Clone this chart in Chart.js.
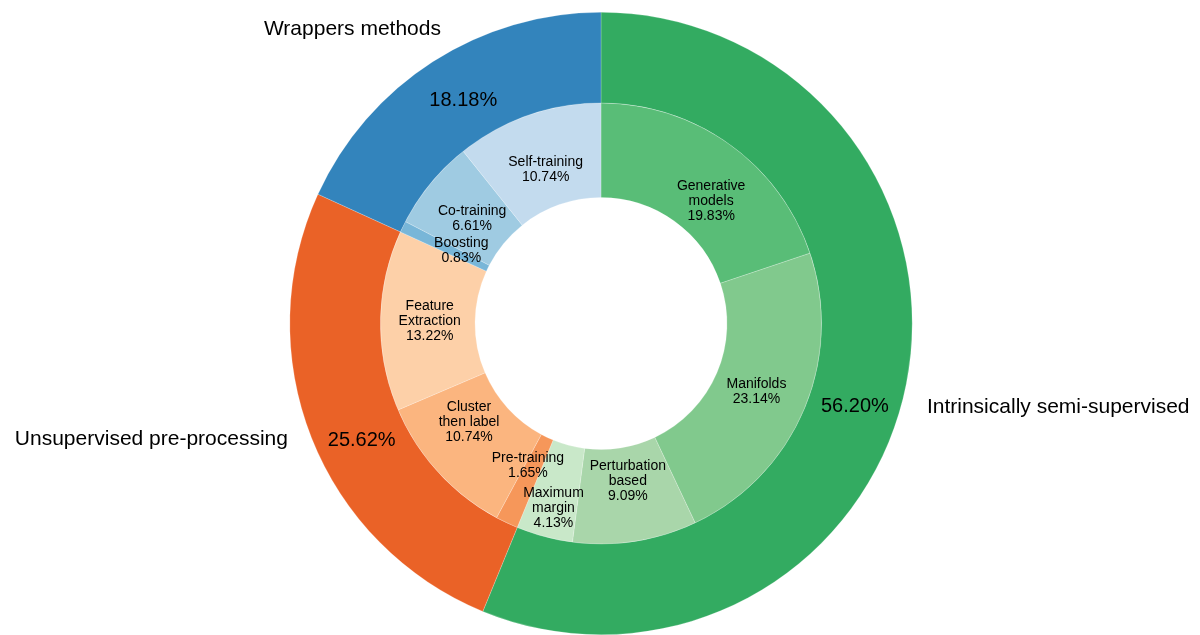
<!DOCTYPE html>
<html>
<head>
<meta charset="utf-8">
<script src="https://cdn.jsdelivr.net/npm/chart.js@4.4.1/dist/chart.umd.min.js"></script>
<style>
	html, body { margin: 0; padding: 0; background: #ffffff; }
	#wrap { width: 1200px; height: 635px; }
</style>
</head>
<body>
<div id="wrap"><canvas id="sunburst"></canvas></div>
<script>
// outer ring: method families
const groupLabels = ["Intrinsically semi-supervised", "Unsupervised pre-processing", "Wrappers methods"];
const groupValues = [56.20, 25.62, 18.18];
const groupColors = ["#33ab61", "#ea6227", "#3384bc"];

// inner ring: individual methods
const subLabels = [
	["Generative", "models"],
	["Manifolds"],
	["Perturbation", "based"],
	["Maximum", "margin"],
	["Pre-training"],
	["Cluster", "then label"],
	["Feature", "Extraction"],
	["Boosting"],
	["Co-training"],
	["Self-training"]
];
const subValues = [19.83, 23.14, 9.09, 4.13, 1.65, 10.74, 13.22, 0.83, 6.61, 10.74];
const subColors = [
	"#59bd77", "#81c98d", "#a9d6aa", "#c9e8c9",
	"#f6975a", "#fbb57f", "#fdd0a8",
	"#78b6d8", "#9fcbe2", "#c3dbee"
];

// small hand nudges so labels sit where the original put them
const groupPctNudge = [[-7, 32], [8, 19], [6, 1]];
const groupNameNudge = [[1, 20], [-5, -6], [19, -16]];
const subNudge = [[9, 18], [-4, 0], [0, -14], [-3, 17], [1, -15], [-4, -18], [2, 0], [16, 3], [5, 5], [2, 10]];

const sliceLabels = {
	id: "sliceLabels",
	afterDatasetsDraw(chart) {
		const ctx = chart.ctx;
		ctx.save();
		ctx.fillStyle = "#000000";
		ctx.textAlign = "center";
		ctx.textBaseline = "middle";

		// outer ring
		chart.getDatasetMeta(0).data.forEach(function (arc, i) {
			const p = arc.getCenterPoint();
			ctx.font = "20px 'Liberation Sans', Arial, sans-serif";
			ctx.textAlign = "center";
			ctx.fillText(groupValues[i].toFixed(2) + "%", p.x + groupPctNudge[i][0], p.y + groupPctNudge[i][1]);

			const mid = (arc.startAngle + arc.endAngle) / 2;
			const r = arc.outerRadius + 20;
			const nx = arc.x + Math.cos(mid) * r + groupNameNudge[i][0];
			const ny = arc.y + Math.sin(mid) * r + groupNameNudge[i][1];
			ctx.font = "21px 'Liberation Sans', Arial, sans-serif";
			ctx.textAlign = Math.cos(mid) >= 0 ? "left" : "right";
			ctx.fillText(groupLabels[i], nx, ny);
		});

		// inner ring
		ctx.font = "14px 'Liberation Sans', Arial, sans-serif";
		ctx.textAlign = "center";
		chart.getDatasetMeta(1).data.forEach(function (arc, i) {
			const p = arc.getCenterPoint();
			const lines = subLabels[i].concat([subValues[i].toFixed(2) + "%"]);
			const lh = 15;
			const top = p.y + subNudge[i][1] - (lines.length - 1) * lh / 2;
			lines.forEach(function (t, k) {
				ctx.fillText(t, p.x + subNudge[i][0], top + k * lh);
			});
		});
		ctx.restore();
	}
};

const ctx = document.getElementById("sunburst").getContext("2d");

new Chart(ctx, {
	type: "doughnut",
	data: {
		labels: subLabels.map(function (l) { return l.join(" "); }),
		datasets: [
			{
				label: "Family",
				data: groupValues,
				backgroundColor: groupColors,
				borderColor: "rgba(255, 255, 255, 0.35)",
				borderWidth: 0.6,
				weight: 91,
			},
			{
				label: "Method",
				data: subValues,
				backgroundColor: subColors,
				borderColor: "rgba(255, 255, 255, 0.35)",
				borderWidth: 0.6,
				weight: 95,
			},
		],
	},
	options: {
		responsive: true,
		maintainAspectRatio: false,
		animation: false,
		cutout: 126,
		layout: {
			padding: { top: 12, bottom: 0, left: 2, right: 0 },
		},
		plugins: {
			legend: { display: false },
			tooltip: { enabled: false },
		},
	},
	plugins: [sliceLabels],
});
</script>
</body>
</html>
